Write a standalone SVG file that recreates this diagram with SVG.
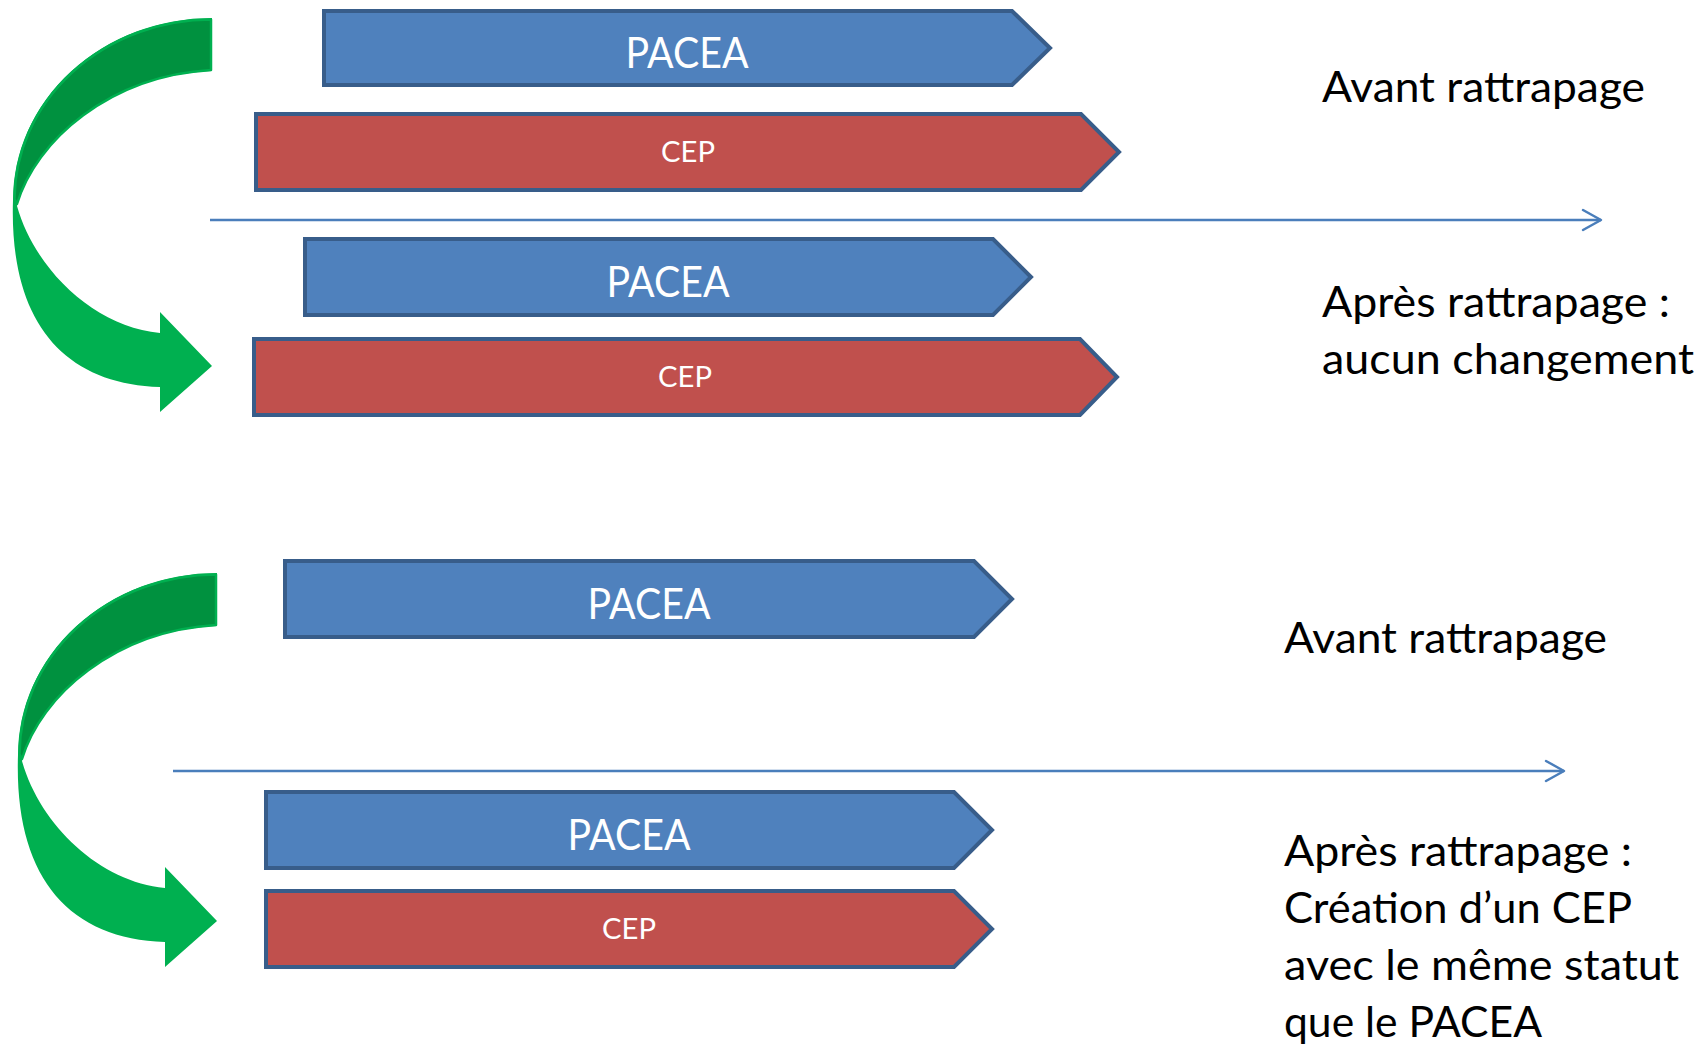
<svg xmlns="http://www.w3.org/2000/svg" xmlns:xlink="http://www.w3.org/1999/xlink" width="1706" height="1050" viewBox="0 0 1706 1050">
  <style>
    .blue { fill: #4F81BD; stroke: #385D8A; stroke-width: 4; stroke-linejoin: miter; }
    .red { fill: #C0504D; stroke: #385D8A; stroke-width: 4; stroke-linejoin: miter; }
    .big { font-family: Lato, "Open Sans", "Liberation Sans", sans-serif; font-size: 42px; fill: #FFFFFF; text-anchor: middle; }
    .small { font-family: Lato, "Open Sans", "Liberation Sans", sans-serif; font-size: 28px; fill: #FFFFFF; text-anchor: middle; }
    .note { font-family: Lato, "Open Sans", "Liberation Sans", sans-serif; font-size: 42px; fill: #000000; }
    .axis { stroke: #4A7EBB; stroke-width: 2.5; fill: none; }
    .gl { fill: #00B050; }
    .gd { fill: #00913F; stroke: #00B050; stroke-width: 2.5; stroke-linejoin: round; }
  </style>
  <defs>
    <marker id="chev" markerUnits="userSpaceOnUse" viewBox="-22 -13 26 26" markerWidth="26" markerHeight="26" refX="0" refY="0" orient="auto">
      <path d="M-18,-10 L0,0 L-18,10" fill="none" stroke="#4A7EBB" stroke-width="2.5" stroke-linecap="round" stroke-linejoin="round"/>
    </marker>
    <g id="curved">
      <path class="gl" d="M212,18 A199,182 0 0 0 13,200 C9,320 62,384 160,387 L160,412 L212,366 L160,312 L160,333 C95,327 35,270 17,206 C35,140 110,75 212,71 Z"/>
      <path class="gd" d="M211,19.5 A197,180 0 0 0 14.5,199 L17,204 C36,140 110,76 211,70 Z"/>
    </g>
  </defs>
  <rect x="0" y="0" width="1706" height="1050" fill="#FFFFFF"/>

  <g id="green-arrows">
    <use xlink:href="#curved" href="#curved"/>
    <use xlink:href="#curved" href="#curved" transform="translate(5,555)"/>
  </g>

  <g id="connectors">
    <line class="axis" x1="210" y1="220" x2="1601" y2="220" marker-end="url(#chev)"/>
    <line class="axis" x1="173" y1="771" x2="1564" y2="771" marker-end="url(#chev)"/>
  </g>

  <g id="pacea-1">
    <path class="blue" d="M324,11 H1012 L1050,48 L1012,85 H324 Z"/>
    <text class="big" x="687" y="68" textLength="123" lengthAdjust="spacingAndGlyphs">PACEA</text>
  </g>
  <g id="cep-1">
    <path class="red" d="M256,114 H1081 L1119,152 L1081,190 H256 Z"/>
    <text class="small" x="688" y="162" textLength="54" lengthAdjust="spacingAndGlyphs">CEP</text>
  </g>
  <g id="pacea-2">
    <path class="blue" d="M305,239 H993 L1031,277 L993,315 H305 Z"/>
    <text class="big" x="668" y="297" textLength="123" lengthAdjust="spacingAndGlyphs">PACEA</text>
  </g>
  <g id="cep-2">
    <path class="red" d="M254,339 H1080 L1117,377 L1080,415 H254 Z"/>
    <text class="small" x="685" y="387" textLength="54" lengthAdjust="spacingAndGlyphs">CEP</text>
  </g>
  <g id="pacea-3">
    <path class="blue" d="M285,561 H974 L1012,599 L974,637 H285 Z"/>
    <text class="big" x="649" y="619" textLength="123" lengthAdjust="spacingAndGlyphs">PACEA</text>
  </g>
  <g id="pacea-4">
    <path class="blue" d="M266,792 H954 L992,830 L954,868 H266 Z"/>
    <text class="big" x="629" y="850" textLength="123" lengthAdjust="spacingAndGlyphs">PACEA</text>
  </g>
  <g id="cep-4">
    <path class="red" d="M266,891 H954 L992,929 L954,967 H266 Z"/>
    <text class="small" x="629" y="939" textLength="54" lengthAdjust="spacingAndGlyphs">CEP</text>
  </g>

  <g id="label-avant-1">
    <text class="note" x="1322" y="102" textLength="323" lengthAdjust="spacingAndGlyphs">Avant rattrapage</text>
  </g>
  <g id="label-apres-1">
    <text class="note" x="1322" y="317" textLength="348" lengthAdjust="spacingAndGlyphs">Après rattrapage :</text>
    <text class="note" x="1322" y="374" textLength="372" lengthAdjust="spacingAndGlyphs">aucun changement</text>
  </g>
  <g id="label-avant-2">
    <text class="note" x="1284" y="653" textLength="323" lengthAdjust="spacingAndGlyphs">Avant rattrapage</text>
  </g>
  <g id="label-apres-2">
    <text class="note" x="1284" y="866" textLength="348" lengthAdjust="spacingAndGlyphs">Après rattrapage :</text>
    <text class="note" x="1284" y="923" textLength="348" lengthAdjust="spacingAndGlyphs">Création d’un CEP</text>
    <text class="note" x="1284" y="980" textLength="395" lengthAdjust="spacingAndGlyphs">avec le même statut</text>
    <text class="note" x="1284" y="1037" textLength="258" lengthAdjust="spacingAndGlyphs">que le PACEA</text>
  </g>
</svg>
